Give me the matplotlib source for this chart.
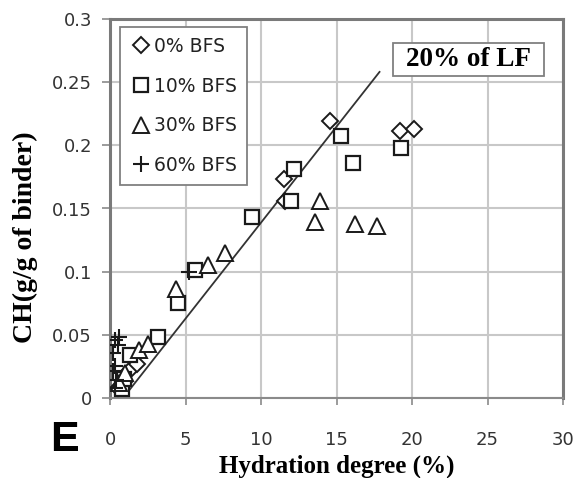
import matplotlib
matplotlib.use('Agg')
import matplotlib.pyplot as plt
from matplotlib.patches import Rectangle
import numpy as np

# data
bfs0_x = [0.5, 0.9, 1.3, 1.8, 11.5, 11.6, 14.6, 19.2, 20.1]
bfs0_y = [0.008, 0.013, 0.022, 0.027, 0.173, 0.156, 0.219, 0.211, 0.213]

bfs10_x = [0.8, 0.9, 1.3, 3.2, 4.5, 5.6, 9.4, 12.0, 12.2, 15.3, 16.1, 19.3]
bfs10_y = [0.007, 0.015, 0.034, 0.048, 0.075, 0.101, 0.143, 0.156, 0.181, 0.207, 0.186, 0.198]

bfs30_x = [0.6, 1.0, 1.9, 2.5, 4.4, 6.5, 7.6, 13.6, 13.9, 16.2, 17.7]
bfs30_y = [0.012, 0.020, 0.038, 0.043, 0.086, 0.105, 0.115, 0.139, 0.156, 0.138, 0.136]

bfs60_x = [0.3, 0.5, 0.2, 0.3, 0.2, 0.4, 0.3, 0.6, 5.2]
bfs60_y = [0.046, 0.042, 0.036, 0.025, 0.021, 0.014, 0.008, 0.048, 0.100]

fit_slope = 0.0152
fit_intercept = -0.0132
fit_range = [0.87, 17.85]

x_ticks = [0, 5, 10, 15, 20, 25, 30]
y_ticks = [0, 0.05, 0.1, 0.15, 0.2, 0.25, 0.3]
y_tick_labels = ['0', '0.05', '0.1', '0.15', '0.2', '0.25', '0.3']

fig = plt.figure(figsize=(5.79, 4.78), dpi=100)
ax = fig.add_axes([110/579, 1 - 398/478, 453/579, 379/478])

edge = '#1a1a1a'
ax.plot(bfs0_x, bfs0_y, 'D', ms=8, mfc='white', mec=edge, mew=1.4, ls='none', label='0% BFS', zorder=3)
ax.plot(bfs10_x, bfs10_y, 's', ms=10, mfc='white', mec=edge, mew=1.6, ls='none', label='10% BFS', zorder=3)
ax.plot(bfs30_x, bfs30_y, '^', ms=12, mfc='white', mec=edge, mew=1.4, ls='none', label='30% BFS', zorder=3)
ax.plot(bfs60_x, bfs60_y, '+', ms=12, mec=edge, mew=1.5, ls='none', label='60% BFS', zorder=3)

fx = np.array(fit_range)
ax.plot(fx, fit_slope * fx + fit_intercept, color='#333333', lw=1.3, zorder=2)

ax.set_xlim(0, 30)
ax.set_ylim(0, 0.3)
ax.set_xticks(x_ticks)
ax.set_yticks(y_ticks)
ax.set_yticklabels(y_tick_labels)
ax.grid(True, color='#c8c8c8', lw=1.5, zorder=0)
ax.set_axisbelow(True)

for s in ['left', 'top', 'right']:
    ax.spines[s].set_color('#7a7a7a')
    ax.spines[s].set_linewidth(2.2)
ax.spines['bottom'].set_color('#8a8a8a')
ax.spines['bottom'].set_linewidth(1.5)

ax.tick_params(axis='y', direction='out', length=6, width=1.2, color='#8a8a8a',
               labelsize=13, labelcolor='#333333', pad=7)
ax.tick_params(axis='x', direction='out', length=5, width=1.2, color='#8a8a8a',
               labelsize=13, labelcolor='#333333', pad=19)

ax.set_xlabel('Hydration degree (%)', fontfamily='Liberation Serif', fontweight='bold',
              fontsize=18, labelpad=4)
ax.set_ylabel('CH(g/g of binder)', fontfamily='Liberation Serif', fontweight='bold',
              fontsize=20, labelpad=0)
ax.yaxis.set_label_coords(-0.16, 0.425)

leg = ax.legend(loc='upper left', bbox_to_anchor=(0.022, 0.98), fontsize=13.5,
                labelspacing=1.1, handletextpad=0.15, handlelength=1.1,
                borderpad=0.55, borderaxespad=0, fancybox=False, framealpha=1,
                edgecolor='#808080')
leg.get_frame().set_linewidth(1.3)
for t in leg.get_texts():
    t.set_color('#222222')

# "20% of LF" label box
ax.add_patch(Rectangle((0.625, 0.85), 0.333, 0.087, transform=ax.transAxes,
                       fc='white', ec='#808080', lw=1.3, zorder=4))
ax.text(0.7915, 0.893, '20% of LF', transform=ax.transAxes, ha='center', va='center',
        fontfamily='Liberation Serif', fontweight='bold', fontsize=19.5, zorder=5)

fig.text(64/579, 1 - 440/478, 'E', fontsize=31, fontweight='bold', ha='center', va='center',
         fontfamily='Liberation Sans')

fig.savefig('out.png', dpi=100)
